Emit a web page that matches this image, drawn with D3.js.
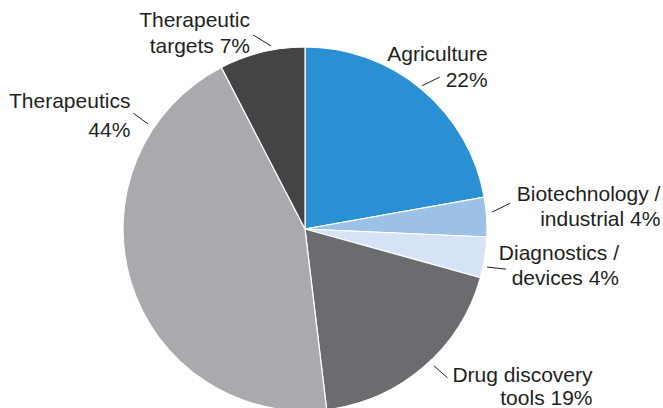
<!DOCTYPE html>
<html>
<head>
<meta charset="utf-8">
<script src="https://cdn.jsdelivr.net/npm/d3@7"></script>
<style>
  html, body { margin: 0; padding: 0; background: #fff; }
  svg { display: block; }
  text { font-family: "Liberation Sans", Arial, Helvetica, sans-serif; fill: #231f20; }
</style>
</head>
<body>
<svg id="chart"></svg>
<script>
// Share of each application area
var categories = ["Agriculture", "Biotechnology / industrial", "Diagnostics / devices",
                  "Drug discovery tools", "Therapeutics", "Therapeutic targets"];
var values = [22.2, 3.5, 3.6, 18.8, 44.3, 7.6];
// Label text as printed on the chart (two lines each)
var labelLines = [
    ["Agriculture", "22%"],
    ["Biotechnology /", "industrial 4%"],
    ["Diagnostics /", "devices 4%"],
    ["Drug discovery", "tools 19%"],
    ["Therapeutics", "44%"],
    ["Therapeutic", "targets 7%"]
];
var colors = ["#2b8fd4", "#9dc1e6", "#d5e3f5", "#6b6c70", "#a9aaad", "#444447"];

var width = 663, height = 408;
var cx = 305, cy = 229, radius = 182;

var svg = d3.select("#chart")
    .attr("width", width)
    .attr("height", height);

var g = svg.append("g")
    .attr("transform", "translate(" + cx + "," + cy + ")");

var data = categories.map(function(c, i) {
    return { category: c, value: values[i], lines: labelLines[i], color: colors[i] };
});

var pie = d3.pie()
    .sort(null)
    .value(function(d) { return d.value; });

var arc = d3.arc()
    .innerRadius(0)
    .outerRadius(radius);

var arcs = pie(data);

g.selectAll("path.slice")
    .data(arcs)
    .enter().append("path")
    .attr("class", "slice")
    .attr("d", arc)
    .attr("fill", function(d) { return d.data.color; })
    .attr("stroke", "#fff")
    .attr("stroke-width", 1.2);

// leader line: angle shifts (deg from slice middle) at inner / outer end,
// radial gap past the rim, then text offset from the outer end
var labelLayout = {
    "Agriculture":                { s0: -0.7, s1: 1.6,  r0: 3, r1: 21, dx: 48,  dy: -16, lh: 26 },
    "Biotechnology / industrial": { s0: -1.4, s1: -3.4, r0: 6, r1: 25, dx: 150, dy: -2,  lh: 25 },
    "Diagnostics / devices":      { s0: 2.8,  s1: 2.3,  r0: 4, r1: 23, dx: 113, dy: -9,  lh: 25 },
    "Drug discovery tools":       { s0: -2.6, s1: -3.1, r0: 6, r1: 24, dx: 145, dy: 4,   lh: 23 },
    "Therapeutics":               { s0: 50.9, s1: 51.1, r0: 7, r1: 25, dx: -3,  dy: -5,  lh: 29 },
    "Therapeutic targets":        { s0: 3.2,  s1: -1.3, r0: 4, r1: 19, dx: -3,  dy: -8,  lh: 26 }
};

function polar(angle, r) {
    return [Math.sin(angle) * r, -Math.cos(angle) * r];
}

var labels = g.selectAll("g.label")
    .data(arcs)
    .enter().append("g")
    .attr("class", "label");

labels.each(function(d) {
    var lay = labelLayout[d.data.category];
    var mid = (d.startAngle + d.endAngle) / 2;
    var p0 = polar(mid + lay.s0 * Math.PI / 180, radius + lay.r0);
    var p1 = polar(mid + lay.s1 * Math.PI / 180, radius + lay.r1);
    var sel = d3.select(this);
    sel.append("line")
        .attr("x1", p0[0]).attr("y1", p0[1])
        .attr("x2", p1[0]).attr("y2", p1[1])
        .attr("stroke", "#231f20")
        .attr("stroke-width", 1);
    var t = sel.append("text")
        .attr("text-anchor", "end")
        .attr("font-size", 21)
        .attr("x", p1[0] + lay.dx)
        .attr("y", p1[1] + lay.dy);
    d.data.lines.forEach(function(line, i) {
        t.append("tspan")
            .attr("x", p1[0] + lay.dx)
            .attr("dy", i === 0 ? 0 : lay.lh)
            .text(line);
    });
});
</script>
</body>
</html>
